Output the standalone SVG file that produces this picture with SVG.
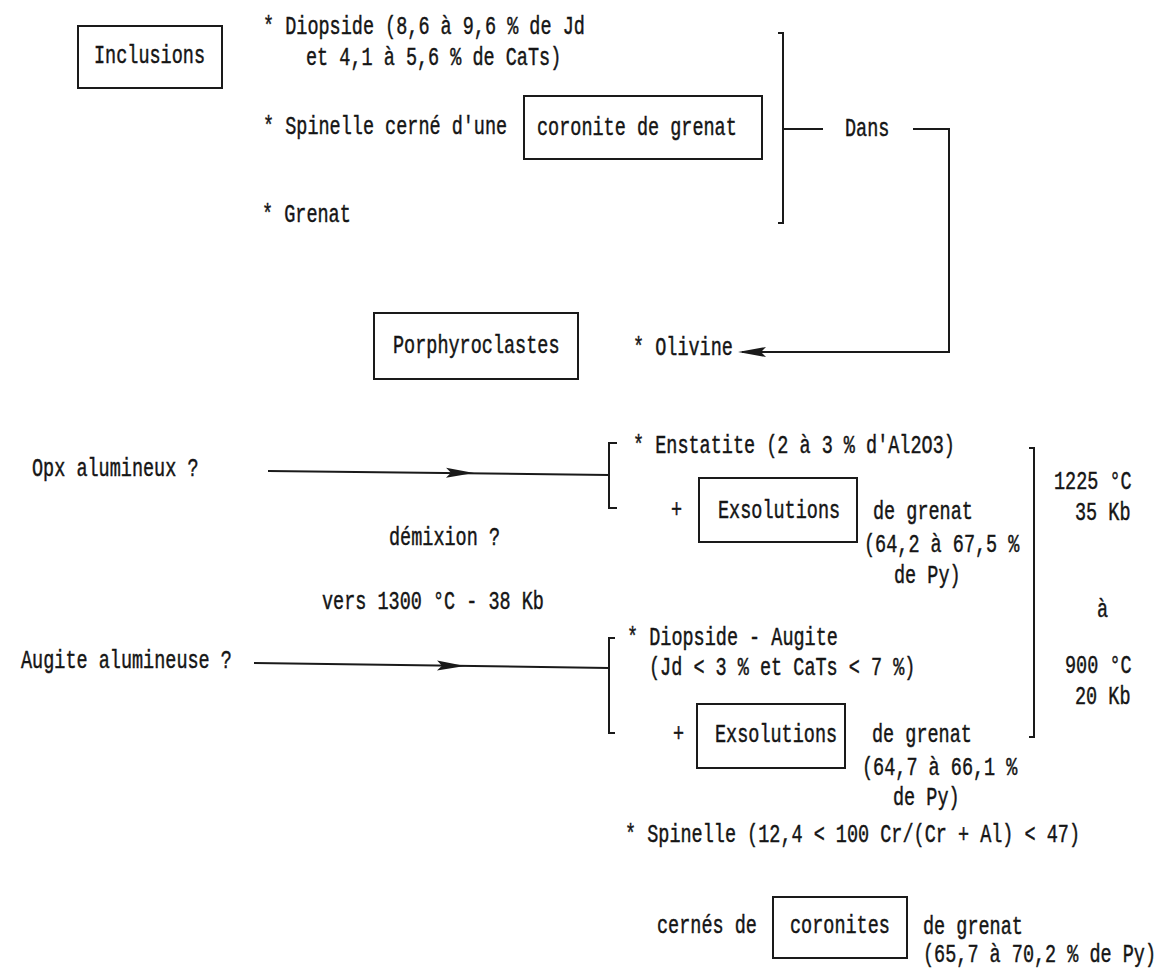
<svg xmlns="http://www.w3.org/2000/svg" width="1160" height="975" viewBox="0 0 1160 975">
<style>
  text { font-family: "Liberation Mono", "DejaVu Sans Mono", monospace; font-size: 25px; fill: #151515; stroke: #151515; stroke-width: 0.45; }
  .box { fill: none; stroke: #1a1a1a; stroke-width: 2; }
  .ln { fill: none; stroke: #1a1a1a; stroke-width: 2; }
</style>
<defs>
  <path id="ah" d="M0,0 L-28,-5 L-23,0 L-28,5 Z" fill="#1a1a1a"/>
</defs>
<rect width="1160" height="975" fill="#ffffff"/>

<g id="inclusions">
  <rect class="box" x="78" y="26" width="144" height="62"/>
  <text transform="translate(94 63) scale(0.74 1)">Inclusions</text>
</g>
<g id="diopside-inc">
  <text transform="translate(263 34) scale(0.74 1)">* Diopside (8,6 à 9,6 % de Jd</text>
  <text transform="translate(306 65) scale(0.74 1)">et 4,1 à 5,6 % de CaTs)</text>
</g>
<g id="spinelle-inc">
  <text transform="translate(263 134) scale(0.74 1)">* Spinelle cerné d'une</text>
</g>
<g id="coronite">
  <rect class="box" x="524" y="96" width="238" height="63"/>
  <text transform="translate(537 135) scale(0.74 1)">coronite de grenat</text>
</g>
<g id="grenat-inc">
  <text transform="translate(262 222) scale(0.74 1)">* Grenat</text>
</g>
<g id="dans">
  <text transform="translate(845 136) scale(0.74 1)">Dans</text>
</g>
<g id="porphyroclastes">
  <rect class="box" x="374" y="313" width="204" height="66"/>
  <text transform="translate(393 353) scale(0.74 1)">Porphyroclastes</text>
</g>
<g id="olivine">
  <text transform="translate(633 355) scale(0.74 1)">* Olivine</text>
</g>

<g id="opx">
  <text transform="translate(32 476) scale(0.74 1)">Opx alumineux ?</text>
</g>
<g id="demixion">
  <text transform="translate(389 545) scale(0.74 1)">démixion ?</text>
  <text transform="translate(322 609) scale(0.74 1)">vers 1300 °C - 38 Kb</text>
</g>
<g id="augite">
  <text transform="translate(21 668) scale(0.74 1)">Augite alumineuse ?</text>
</g>

<g id="enstatite">
  <text transform="translate(633 453) scale(0.74 1)">* Enstatite (2 à 3 % d'Al2O3)</text>
  <text transform="translate(671 517) scale(0.74 1)">+</text>
</g>
<g id="exsolutions-1">
  <rect class="box" x="699" y="478" width="158" height="64"/>
  <text transform="translate(718 518) scale(0.74 1)">Exsolutions</text>
  <text transform="translate(873 519) scale(0.74 1)">de grenat</text>
  <text transform="translate(864 552) scale(0.74 1)">(64,2 à 67,5 %</text>
  <text transform="translate(894 583) scale(0.74 1)">de Py)</text>
</g>

<g id="diopside-augite">
  <text transform="translate(627 645) scale(0.74 1)">* Diopside - Augite</text>
  <text transform="translate(649 675) scale(0.74 1)">(Jd &lt; 3 % et CaTs &lt; 7 %)</text>
  <text transform="translate(673 741) scale(0.74 1)">+</text>
</g>
<g id="exsolutions-2">
  <rect class="box" x="697" y="704" width="148" height="64"/>
  <text transform="translate(715 742) scale(0.74 1)">Exsolutions</text>
  <text transform="translate(872 742) scale(0.74 1)">de grenat</text>
  <text transform="translate(862 775) scale(0.74 1)">(64,7 à 66,1 %</text>
  <text transform="translate(893 805) scale(0.74 1)">de Py)</text>
</g>

<g id="conditions">
  <text transform="translate(1054 489) scale(0.74 1)">1225 °C</text>
  <text transform="translate(1075 520) scale(0.74 1)">35 Kb</text>
  <text transform="translate(1097 617) scale(0.74 1)">à</text>
  <text transform="translate(1065 673) scale(0.74 1)">900 °C</text>
  <text transform="translate(1075 704) scale(0.74 1)">20 Kb</text>
</g>

<g id="spinelle">
  <text transform="translate(625 842) scale(0.74 1)">* Spinelle (12,4 &lt; 100 Cr/(Cr + Al) &lt; 47)</text>
  <text transform="translate(657 933) scale(0.74 1)">cernés de</text>
</g>
<g id="coronites">
  <rect class="box" x="773" y="897" width="134" height="61"/>
  <text transform="translate(790 933) scale(0.74 1)">coronites</text>
  <text transform="translate(923 934) scale(0.74 1)">de grenat</text>
  <text transform="translate(923 962) scale(0.74 1)">(65,7 à 70,2 % de Py)</text>
</g>

<g id="connectors">
  <path class="ln" d="M778,33 L783,33 L783,223 L778,223"/>
  <path class="ln" d="M783,129 L823,129"/>
  <path class="ln" d="M913,129 L949,129 L949,352 L742,352"/>
  <use href="#ah" transform="translate(738 352) rotate(180)"/>
  <path class="ln" d="M268,471 L609,475"/>
  <use href="#ah" transform="translate(474 473) rotate(0.7)"/>
  <path class="ln" d="M617,443 L609,443 L609,508 L617,508"/>
  <path class="ln" d="M254,663 L609,668"/>
  <use href="#ah" transform="translate(465 666) rotate(0.8)"/>
  <path class="ln" d="M615,638 L609,638 L609,733 L615,733"/>
  <path class="ln" d="M1029,448 L1034,448 L1034,737 L1029,737"/>
</g>
</svg>
